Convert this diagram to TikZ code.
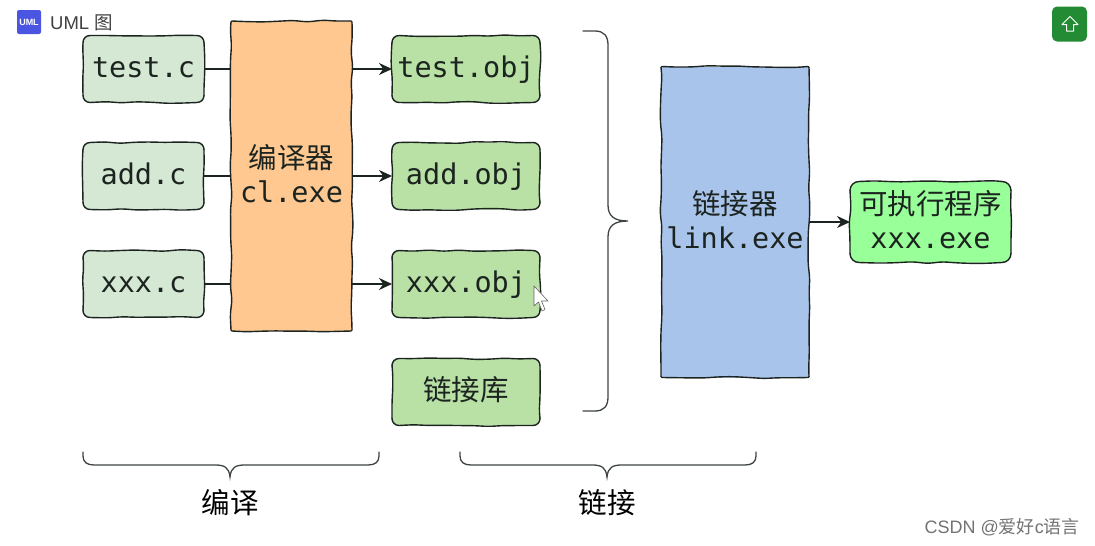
\documentclass[tikz,border=0pt]{standalone}
\usepackage{fontspec}
\usetikzlibrary{arrows.meta,decorations.pathmorphing}
\setmainfont{Liberation Sans}
\newfontfamily\cjk{Noto Sans CJK SC}
\newfontfamily\monof{DejaVu Sans Mono}
\definecolor{srcfill}{HTML}{D5E8D4}
\definecolor{objfill}{HTML}{B9E0A5}
\definecolor{compfill}{HTML}{FFC891}
\definecolor{linkfill}{HTML}{A9C4EB}
\definecolor{exefill}{HTML}{99FF99}
\definecolor{inkc}{HTML}{1C2420}
\definecolor{iconfill}{RGB}{74,86,226}
\definecolor{btnfill}{RGB}{34,139,52}
\pgfmathsetseed{11}
\tikzset{
  base/.style={inner sep=0pt,outer sep=0pt,font=\monof\fontsize{28.5}{34}\selectfont,text=inkc,align=center},
  box/.style={base,rounded corners=7pt,minimum width=#1,minimum height=67pt},
  srcbox/.style={box=121pt,fill=srcfill},
  objbox/.style={box=148pt,fill=objfill},
  tall/.style={base,minimum height=310pt},
  wobline/.style={draw=inkc,line width=1.4pt,line cap=round,decorate,decoration={random steps,segment length=15pt,amplitude=1pt},rounded corners=5pt},
  plainline/.style={draw=inkc,line width=1.4pt,line cap=round},
  conn/.style={draw=inkc,line width=1.4pt},
  arr/.style={conn,-{Stealth[length=13pt,width=12pt]}},
  brace/.style={draw=inkc!85,line width=1.3pt,line cap=round},
  big/.style={font=\cjk\fontsize{28.5}{34}\selectfont,text=black}
}
\newcommand{\zh}[1]{{\cjk #1}}
\newcommand{\up}[2][-8.1pt]{\raisebox{#1}[0pt][0pt]{\begin{tabular}{@{}c@{}}#2\end{tabular}}}
\newcommand{\wobframe}[2]{%
  \draw[wobline] ([xshift=#2]#1.north west) -- ([xshift=-#2]#1.north east);
  \draw[wobline] ([yshift=-#2]#1.north east) -- ([yshift=#2]#1.south east);
  \draw[wobline] ([xshift=-#2]#1.south east) -- ([xshift=#2]#1.south west);
  \draw[wobline] ([yshift=#2]#1.south west) -- ([yshift=-#2]#1.north west);
  \draw[plainline] ([xshift=-#2]#1.north east) arc[start angle=90,end angle=0,radius=#2];
  \draw[plainline] ([yshift=#2]#1.south east) arc[start angle=0,end angle=-90,radius=#2];
  \draw[plainline] ([xshift=#2]#1.south west) arc[start angle=270,end angle=180,radius=#2];
  \draw[plainline] ([yshift=-#2]#1.north west) arc[start angle=180,end angle=90,radius=#2];
}
\begin{document}
\begin{tikzpicture}[x=1pt,y=-1pt]
\useasboundingbox (0,0) rectangle (1095,546);
% boxes
\node[srcbox] (tc) at (143.5,69) {\up{test.c}};
\node[srcbox] (ac) at (143.5,176) {\up{add.c}};
\node[srcbox] (xc) at (143.5,284) {\up{xxx.c}};
\node[tall,fill=compfill,minimum width=121pt] (cl) at (291.5,176) {\up[-9pt]{\zh{编译器}\\cl.exe}};
\node[objbox] (to) at (466,69) {\up{test.obj}};
\node[objbox] (ao) at (466,176) {\up{add.obj}};
\node[objbox] (xo) at (466,284) {\up{xxx.obj}};
\node[objbox] (lib) at (466,392) {\up{\zh{链接库}}};
\node[tall,fill=linkfill,minimum width=148pt,minimum height=311pt] (ln) at (735,222) {\up[-9pt]{\zh{链接器}\\link.exe}};
\node[base,rounded corners=9pt,fill=exefill,minimum width=161pt,minimum height=81pt] (ex) at (930.5,222) {\up[-9pt]{\zh{可执行程序}\\xxx.exe}};
\wobframe{tc}{7pt}
\wobframe{ac}{7pt}
\wobframe{xc}{7pt}
\wobframe{cl}{1pt}
\wobframe{to}{7pt}
\wobframe{ao}{7pt}
\wobframe{xo}{7pt}
\wobframe{lib}{7pt}
\wobframe{ln}{1pt}
\wobframe{ex}{9pt}
% connectors
\draw[conn] (tc.east) -- (cl.west |- tc.east);
\draw[conn] (ac.east) -- (cl.west |- ac.east);
\draw[conn] (xc.east) -- (cl.west |- xc.east);
\draw[arr] (cl.east |- to.west) -- (to.west);
\draw[arr] (cl.east |- ao.west) -- (ao.west);
\draw[arr] (cl.east |- xo.west) -- (xo.west);
\draw[arr] (ln.east |- ex.west) -- (ex.west);
% big right brace
\coordinate (bt) at (583,31);
\coordinate (bb) at (583,411);
\coordinate (bm) at (628,221);
\draw[brace] (bt) -- (595,31) .. controls (604,31) and (608,36) .. (608,45)
  -- (608,205) .. controls (608,216) and (614,221) .. (bm)
  .. controls (614,221) and (608,226) .. (608,237)
  -- (608,397) .. controls (608,406) and (604,411) .. (595,411) -- (bb);
% lower braces
\coordinate (l1) at (83,452);
\coordinate (r1) at (379,452);
\coordinate (m1) at (230,477);
\draw[brace] (l1) -- (83,456) .. controls (83,462) and (87,465) .. (94,465)
  -- (215,465) .. controls (224,465) and (229,467) .. (m1)
  .. controls (231,467) and (236,465) .. (245,465)
  -- (368,465) .. controls (375,465) and (379,462) .. (379,456) -- (r1);
\coordinate (l2) at (460,452);
\coordinate (r2) at (756,452);
\coordinate (m2) at (607,477);
\draw[brace] (l2) -- (460,456) .. controls (460,462) and (464,465) .. (471,465)
  -- (592,465) .. controls (601,465) and (606,467) .. (m2)
  .. controls (608,467) and (613,465) .. (622,465)
  -- (745,465) .. controls (752,465) and (756,462) .. (756,456) -- (r2);
\node[big] (lab1) at (230,503) {编译};
\node[big] (lab2) at (607,503) {链接};
% header icon and label
\node[fill=iconfill,rounded corners=2pt,minimum width=24pt,minimum height=24pt,inner sep=0pt,text=white,font=\bfseries\fontsize{9}{10}\selectfont] (icon) at (29,22) {UML};
\node[anchor=west,inner sep=0pt,text=black!75,font=\fontsize{18.5}{20}\selectfont] (uml) at (50,23) {UML \zh{图}};
% green button
\node[fill=btnfill,rounded corners=5pt,minimum width=35pt,minimum height=35pt,inner sep=0pt] (btn) at (1069.5,24) {};
\draw[white,line width=1pt,line join=round] (1070,16.5) -- (1078,24.5) -- (1073.5,24.5) -- (1073.5,31) -- (1066.5,31) -- (1066.5,24.5) -- (1062,24.5) -- cycle;
% mouse cursor
\draw[black!60,fill=white,line width=0.6pt,line join=round] (534,286) -- (534,306) -- (538.5,302) -- (542,311) -- (545,309.5) -- (541.5,301) -- (548,301) -- cycle;
% watermark
\node[anchor=east,inner sep=0pt,text=black!55,font=\fontsize{18}{20}\selectfont] (wm) at (1080,527) {CSDN @\zh{爱好}c\zh{语言}};
\end{tikzpicture}
\end{document}
